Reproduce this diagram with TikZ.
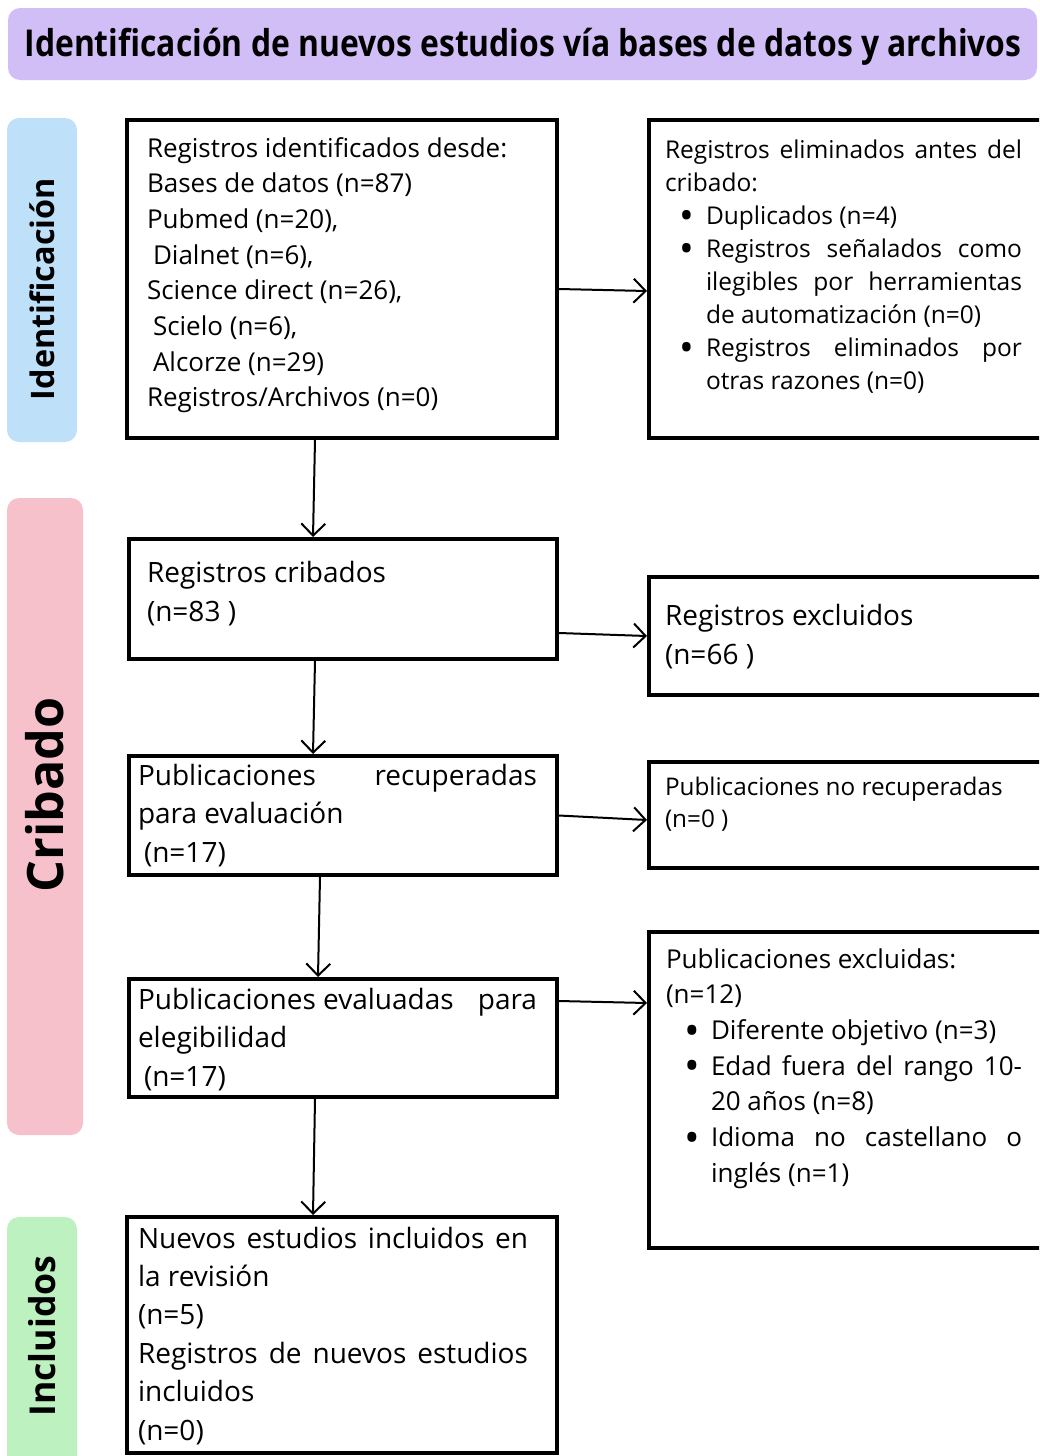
\documentclass[tikz,border=0pt]{standalone}
\usepackage{fontspec}
\setmainfont{Open Sans}
\usetikzlibrary{arrows.meta,positioning}

\definecolor{lila}{HTML}{D1BEF6}
\definecolor{azulid}{HTML}{BEE0F8}
\definecolor{rosacrib}{HTML}{F7C1CB}
\definecolor{verdeinc}{HTML}{BDF2C0}

% bullet of the lists
\newcommand{\vineta}{\makebox[27pt][l]{\raisebox{-0.22em}{\scalebox{1.6}{\textbullet}}}}

\begin{document}
\begin{tikzpicture}[x=1pt, y=-1pt,
    caja/.style={draw=black, line width=4pt, inner sep=0pt},
    texto/.style={anchor=base west, inner sep=0pt, outer sep=0pt},
    rotulo/.style={fill=#1, rounded corners=12pt, inner sep=0pt},
    flecha/.style={-{Straight Barb[length=12pt,width=24pt]}, line width=2pt}]

  \useasboundingbox (0,0) rectangle (1039,1456);
  \clip (0,0) rectangle (1039,1456);
  \fill[white] (0,0) rectangle (1039,1456);

  % Title bar
  \node[rotulo=lila, minimum width=1029pt, minimum height=72pt] (titulo) at (522.5,44) {};
  \node[inner sep=0pt] (titulotxt) at (523,47)
        {\resizebox{997pt}{\height}{\fontsize{37}{40}\selectfont\bfseries
         Identificación de nuevos estudios vía bases de datos y archivos}};

  % Phase labels on the left
  \node[rotulo=azulid, minimum width=70pt, minimum height=324pt] (lblident) at (42,280) {};
  \node[rotate=90, inner sep=0pt] (lblidenttxt) at (42,289)
        {\resizebox{222pt}{!}{\fontsize{30}{32}\selectfont\bfseries Identificación}};
  \node[rotulo=rosacrib, minimum width=76pt, minimum height=637pt] (lblcrib) at (45,816.5) {};
  \node[rotate=90, inner sep=0pt] (lblcribtxt) at (45,795)
        {\resizebox{195pt}{!}{\fontsize{44}{46}\selectfont\bfseries Cribado}};
  \node[rotulo=verdeinc, minimum width=70pt, minimum height=260pt] (lblinc) at (42,1347) {};
  \node[rotate=90, inner sep=0pt] (lblinctxt) at (42,1336)
        {\resizebox{161pt}{!}{\fontsize{30}{32}\selectfont\bfseries Incluidos}};

  % Left column of boxes
  \node[caja, minimum width=430pt, minimum height=318pt] (ident) at (342,279) {};
  \node[caja, minimum width=428pt, minimum height=120pt] (cribados) at (343,599) {};
  \node[caja, minimum width=428pt, minimum height=119pt] (recuperadas) at (343,815.5) {};
  \node[caja, minimum width=428pt, minimum height=118pt] (evaluadas) at (343,1038) {};
  \node[caja, minimum width=430pt, minimum height=236pt] (incluidos) at (342,1335) {};

  % Right column of boxes (cut by the right edge)
  \node[caja, minimum width=409pt, minimum height=318pt] (eliminados) at (853.5,279) {};
  \node[caja, minimum width=409pt, minimum height=118pt] (excluidos) at (853.5,636) {};
  \node[caja, minimum width=409pt, minimum height=106pt] (norecup) at (853.5,815) {};
  \node[caja, minimum width=409pt, minimum height=316pt] (pubexcl) at (853.5,1090) {};

  % Texts of the boxes
  \node[texto] (identtxt) at (147,157) {\parbox[t]{420pt}{\fontsize{26}{35.7}\selectfont
    Registros identificados desde:\\
    Bases de datos (n=87)\\
    Pubmed (n=20),\\
    \hspace*{6pt}Dialnet (n=6),\\
    Science direct (n=26),\\
    \hspace*{6pt}Scielo (n=6),\\
    \hspace*{6pt}Alcorze (n=29)\\
    Registros/Archivos (n=0)}};

  \node[texto] (eliminadostxt) at (665,158) {\parbox[t]{380pt}{\fontsize{24.5}{33}\selectfont
    \makebox[357pt][s]{Registros eliminados antes del}\\
    cribado:\\
    \hspace*{14pt}\vineta Duplicados (n=4)\\
    \hspace*{14pt}\vineta\makebox[316pt][s]{Registros señalados como}\\
    \hspace*{41pt}\makebox[316pt][s]{ilegibles por herramientas}\\
    \hspace*{41pt}de automatización (n=0)\\
    \hspace*{14pt}\vineta\makebox[316pt][s]{Registros eliminados por}\\
    \hspace*{41pt}otras razones (n=0)}};

  \node[texto] (cribadostxt) at (147,582) {\parbox[t]{400pt}{\fontsize{28}{39}\selectfont
    Registros cribados\\
    (n=83 )}};

  \node[texto] (excluidostxt) at (665,625) {\parbox[t]{380pt}{\fontsize{28}{39}\selectfont
    Registros excluidos\\
    (n=66 )}};

  \node[texto] (recuperadastxt) at (138,785) {\parbox[t]{410pt}{\fontsize{28}{38.5}\selectfont
    \makebox[399pt][s]{Publicaciones recuperadas}\\
    para evaluación\\
    \hspace*{6pt}(n=17)}};

  \node[texto] (norecuptxt) at (665,795) {\parbox[t]{380pt}{\fontsize{24.3}{32}\selectfont
    Publicaciones no recuperadas\\
    (n=0 )}};

  \node[texto] (evaluadastxt) at (138,1009) {\parbox[t]{410pt}{\fontsize{28}{38.5}\selectfont
    \makebox[399pt][l]{Publicaciones evaluadas\hfill para}\\
    elegibilidad\\
    \hspace*{6pt}(n=17)}};

  \node[texto] (pubexcltxt) at (666,968) {\parbox[t]{380pt}{\fontsize{26}{35.7}\selectfont
    Publicaciones excluidas:\\
    (n=12)\\
    \hspace*{18pt}\vineta Diferente objetivo (n=3)\\
    \hspace*{18pt}\vineta\makebox[311pt][s]{Edad fuera del rango 10-}\\
    \hspace*{45pt}20 años (n=8)\\
    \hspace*{18pt}\vineta\makebox[311pt][s]{Idioma no castellano o}\\
    \hspace*{45pt}inglés (n=1)}};

  \node[texto] (incluidostxt) at (138,1248) {\parbox[t]{410pt}{\fontsize{28}{38.4}\selectfont
    \makebox[390pt][s]{Nuevos estudios incluidos en}\\
    la revisión\\
    (n=5)\\
    \makebox[390pt][s]{Registros de nuevos estudios}\\
    incluidos\\
    (n=0)}};

  % Arrows down the left column
  \draw[flecha] ([xshift=-27pt]ident.south) -- ([xshift=-30pt]cribados.north);
  \draw[flecha] ([xshift=-28pt]cribados.south) -- ([xshift=-30pt]recuperadas.north);
  \draw[flecha] ([xshift=-23pt]recuperadas.south) -- ([xshift=-25pt]evaluadas.north);
  \draw[flecha] ([xshift=-28pt]evaluadas.south) -- ([xshift=-29pt]incluidos.north);

  % Arrows to the right column
  \draw[flecha] ([yshift=-10pt]ident.east) -- ([yshift=-12pt]eliminados.west);
  \draw[flecha] ([yshift=-34pt]cribados.east) -- (excluidos.west);
  \draw[flecha] (recuperadas.east) -- ([yshift=-5pt]norecup.west);
  \draw[flecha] ([yshift=37pt]evaluadas.east) -- ([yshift=87pt]pubexcl.west);
\end{tikzpicture}
\end{document}
